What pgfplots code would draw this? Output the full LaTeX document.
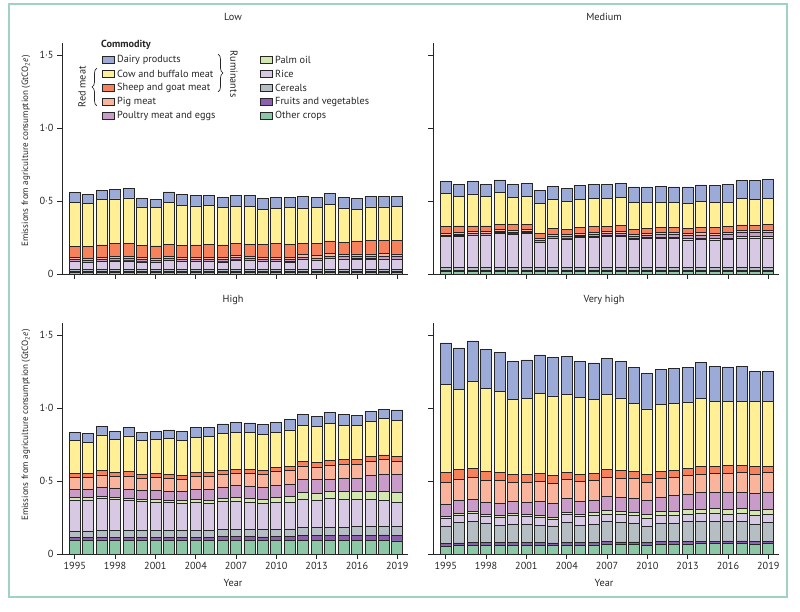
\documentclass[border=0pt]{standalone}
\usepackage{fontspec}
\setmainfont{PT Sans}
\usepackage{pgfplots}
\pgfplotsset{compat=1.18}
\usepackage{pgfplotstable}
\usetikzlibrary{decorations.pathreplacing}

\definecolor{cDairy}{HTML}{9BAAD7}
\definecolor{cCow}{HTML}{FFF096}
\definecolor{cSheep}{HTML}{F5825A}
\definecolor{cPig}{HTML}{FAB49B}
\definecolor{cPoultry}{HTML}{C89BC8}
\definecolor{cPalm}{HTML}{D2E8AF}
\definecolor{cRice}{HTML}{D7C8E4}
\definecolor{cCereal}{HTML}{B4BEC3}
\definecolor{cFruit}{HTML}{8C5FAF}
\definecolor{cOther}{HTML}{8CC8A5}
\definecolor{cFrame}{HTML}{9FD3C1}
\definecolor{cInk}{HTML}{262626}

\pgfplotstableread{
year other fruit cereal rice palm poultry pig sheep cow dairy
1995 .008 .010 .012 .054 .002 .012 .014 .075 .306 .064
1996 .008 .010 .012 .049 .002 .012 .014 .080 .297 .062
1997 .008 .010 .012 .056 .002 .012 .014 .085 .312 .062
1998 .008 .010 .012 .060 .002 .012 .015 .089 .306 .064
1999 .008 .010 .012 .060 .002 .012 .015 .091 .311 .063
2000 .008 .010 .012 .053 .002 .012 .015 .082 .265 .059
2001 .008 .010 .012 .051 .002 .012 .015 .082 .265 .054
2002 .008 .010 .012 .063 .002 .013 .015 .082 .288 .069
2003 .008 .010 .012 .054 .002 .013 .015 .082 .274 .076
2004 .008 .010 .012 .054 .002 .013 .015 .085 .267 .073
2005 .008 .010 .012 .054 .002 .013 .015 .089 .265 .071
2006 .008 .010 .012 .053 .002 .013 .016 .085 .258 .070
2007 .008 .010 .012 .066 .002 .014 .016 .082 .253 .078
2008 .008 .010 .012 .061 .002 .014 .016 .082 .256 .078
2009 .008 .010 .012 .054 .002 .014 .016 .089 .240 .073
2010 .008 .010 .012 .054 .002 .014 .016 .094 .237 .076
2011 .009 .009 .012 .052 .003 .015 .016 .085 .253 .073
2012 .009 .009 .012 .068 .003 .015 .016 .080 .240 .080
2013 .009 .009 .012 .062 .003 .015 .016 .086 .242 .073
2014 .009 .009 .013 .073 .003 .016 .016 .087 .251 .075
2015 .009 .009 .013 .069 .003 .016 .016 .084 .233 .073
2016 .010 .009 .013 .069 .003 .016 .017 .089 .217 .075
2017 .010 .009 .013 .069 .003 .016 .017 .094 .228 .071
2018 .010 .008 .013 .069 .003 .017 .019 .089 .231 .073
2019 .010 .008 .013 .067 .003 .017 .019 .091 .233 .073
}\lowdata

\pgfplotstableread{
year other fruit cereal rice palm poultry pig sheep cow dairy
1995 .020 .007 .018 .211 .003 .008 .012 .045 .228 .080
1996 .020 .007 .018 .215 .003 .009 .012 .045 .205 .082
1997 .020 .007 .018 .220 .003 .009 .012 .040 .219 .084
1998 .020 .007 .018 .220 .003 .009 .012 .040 .203 .084
1999 .020 .007 .018 .234 .003 .009 .013 .038 .215 .087
2000 .020 .007 .018 .229 .004 .009 .013 .038 .187 .089
2001 .020 .007 .018 .234 .004 .009 .013 .037 .192 .087
2002 .020 .007 .018 .170 .004 .010 .013 .036 .208 .087
2003 .020 .007 .018 .197 .004 .011 .013 .043 .198 .089
2004 .020 .007 .018 .195 .004 .011 .014 .037 .189 .092
2005 .020 .007 .018 .206 .005 .012 .013 .039 .191 .094
2006 .020 .007 .018 .208 .005 .012 .014 .040 .192 .096
2007 .020 .007 .018 .213 .005 .013 .014 .034 .192 .096
2008 .020 .007 .018 .215 .006 .013 .014 .038 .192 .096
2009 .020 .007 .018 .192 .006 .015 .014 .036 .185 .103
2010 .020 .007 .018 .197 .007 .016 .014 .034 .180 .103
2011 .020 .007 .018 .199 .007 .018 .014 .037 .173 .107
2012 .020 .007 .018 .199 .008 .019 .014 .035 .171 .105
2013 .020 .007 .018 .188 .008 .021 .014 .037 .173 .110
2014 .020 .007 .018 .192 .009 .022 .014 .038 .178 .112
2015 .020 .007 .018 .188 .009 .024 .014 .040 .169 .116
2016 .020 .007 .018 .192 .010 .025 .014 .038 .169 .121
2017 .020 .007 .018 .199 .011 .027 .014 .040 .182 .124
2018 .020 .007 .018 .199 .011 .028 .015 .035 .178 .128
2019 .020 .007 .018 .199 .012 .030 .015 .039 .176 .132
}\meddata

\pgfplotstableread{
year other fruit cereal rice palm poultry pig sheep cow dairy
1995 .095 .017 .046 .212 .015 .060 .081 .028 .223 .055
1996 .095 .017 .046 .212 .015 .060 .081 .028 .212 .057
1997 .096 .018 .046 .222 .015 .059 .086 .028 .246 .057
1998 .095 .018 .047 .212 .016 .059 .084 .028 .228 .054
1999 .095 .018 .047 .207 .016 .059 .093 .028 .246 .055
2000 .094 .019 .047 .199 .017 .062 .081 .028 .230 .053
2001 .094 .020 .048 .195 .017 .064 .086 .028 .230 .055
2002 .094 .020 .048 .189 .018 .062 .084 .028 .250 .057
2003 .093 .021 .048 .187 .018 .059 .084 .028 .239 .060
2004 .093 .022 .049 .190 .020 .068 .091 .028 .239 .064
2005 .093 .022 .049 .184 .021 .073 .091 .028 .244 .061
2006 .094 .024 .050 .190 .023 .075 .089 .030 .250 .066
2007 .094 .025 .051 .193 .025 .079 .082 .030 .255 .069
2008 .093 .025 .050 .189 .026 .082 .084 .030 .251 .068
2009 .092 .025 .049 .178 .030 .080 .091 .030 .244 .066
2010 .092 .027 .051 .183 .035 .084 .093 .030 .239 .067
2011 .092 .028 .052 .182 .038 .087 .093 .030 .248 .069
2012 .093 .033 .054 .197 .045 .091 .090 .033 .244 .073
2013 .092 .034 .054 .190 .047 .094 .085 .033 .242 .073
2014 .092 .036 .055 .195 .048 .087 .095 .033 .253 .073
2015 .092 .037 .055 .192 .050 .089 .097 .033 .237 .071
2016 .092 .038 .056 .188 .055 .086 .100 .033 .230 .071
2017 .091 .039 .056 .185 .060 .107 .097 .033 .239 .068
2018 .091 .040 .056 .179 .065 .114 .101 .033 .247 .067
2019 .090 .040 .057 .167 .068 .123 .088 .033 .251 .070
}\highdata

\pgfplotstableread{
year other fruit cereal rice palm poultry pig sheep cow dairy
1995 .055 .018 .119 .051 .012 .087 .146 .071 .604 .283
1996 .058 .018 .138 .053 .013 .085 .148 .064 .552 .282
1997 .060 .018 .143 .056 .013 .084 .153 .059 .593 .280
1998 .060 .018 .132 .047 .014 .082 .151 .064 .565 .269
1999 .060 .018 .120 .055 .014 .080 .155 .054 .559 .264
2000 .060 .018 .125 .062 .015 .080 .128 .057 .513 .258
2001 .059 .018 .126 .053 .015 .082 .139 .055 .518 .264
2002 .059 .018 .121 .053 .016 .091 .137 .054 .550 .264
2003 .058 .018 .116 .045 .016 .094 .134 .055 .547 .262
2004 .062 .018 .134 .055 .018 .091 .130 .051 .535 .258
2005 .061 .018 .119 .058 .018 .084 .137 .052 .525 .248
2006 .062 .018 .125 .058 .020 .086 .137 .048 .504 .251
2007 .065 .019 .137 .053 .022 .096 .132 .055 .513 .246
2008 .064 .019 .136 .052 .023 .094 .132 .052 .497 .247
2009 .064 .019 .127 .053 .024 .094 .134 .053 .465 .244
2010 .062 .019 .106 .057 .025 .098 .123 .053 .451 .242
2011 .066 .019 .125 .052 .028 .098 .130 .045 .463 .237
2012 .067 .019 .124 .052 .030 .107 .125 .051 .456 .241
2013 .069 .019 .133 .051 .031 .107 .128 .046 .453 .240
2014 .070 .019 .135 .052 .032 .112 .127 .050 .468 .246
2015 .070 .019 .135 .053 .033 .112 .130 .050 .445 .239
2016 .071 .019 .134 .050 .034 .114 .130 .052 .440 .237
2017 .071 .019 .134 .051 .035 .114 .135 .047 .441 .237
2018 .069 .018 .118 .059 .035 .114 .134 .050 .447 .208
2019 .070 .018 .129 .053 .036 .114 .136 .046 .442 .205
}\vhighdata

\newcommand\fs{\fontsize{10.3}{12}\selectfont}
\newcommand\fl{\fontsize{9.1}{11}\selectfont}

\pgfplotsset{
  panel/.style={
    scale only axis, width=346bp, height=230.7bp,
    xmin=1994.05, xmax=2019.8, ymin=0, ymax=1.58,
    ybar stacked, bar width=0.82,
    axis x line*=bottom, axis y line*=left,
    axis line style={-, draw=cInk, line width=0.8bp},
    tick align=outside, major tick length=5bp,
    tick style={draw=cInk, line width=0.8bp},
    xtick={1995,1998,2001,2004,2007,2010,2013,2016,2019},
    ytick={0,0.5,1,1.5},
    tick label style={font=\fs, text=cInk},
    xticklabels={}, yticklabels={},
    every axis plot/.append style={draw=cInk, line width=0.7bp},
  },
  xlab/.style={xticklabels={1995,1998,2001,2004,2007,2010,2013,2016,2019}},
  ylab/.style={yticklabels={0,0·5,1·0,1·5}},
}

\newcommand\stackbars[1]{%
  \addplot[fill=cOther] table[x=year,y=other]{#1};
  \addplot[fill=cFruit] table[x=year,y=fruit]{#1};
  \addplot[fill=cCereal] table[x=year,y=cereal]{#1};
  \addplot[fill=cRice] table[x=year,y=rice]{#1};
  \addplot[fill=cPalm] table[x=year,y=palm]{#1};
  \addplot[fill=cPoultry] table[x=year,y=poultry]{#1};
  \addplot[fill=cPig] table[x=year,y=pig]{#1};
  \addplot[fill=cSheep] table[x=year,y=sheep]{#1};
  \addplot[fill=cCow] table[x=year,y=cow]{#1};
  \addplot[fill=cDairy] table[x=year,y=dairy]{#1};
}

\begin{document}
\begin{tikzpicture}
\useasboundingbox (0,0) rectangle (800bp,612bp);
\draw[cFrame, line width=1.5bp] (9bp,15bp) rectangle (787bp,608bp);

\begin{axis}[panel, ylab, at={(62bp,338bp)}, anchor=south west]
\stackbars{\lowdata}
\end{axis}
\begin{axis}[panel, at={(433bp,338bp)}, anchor=south west]
\stackbars{\meddata}
\end{axis}
\begin{axis}[panel, xlab, ylab, at={(62bp,58bp)}, anchor=south west]
\stackbars{\highdata}
\end{axis}
\begin{axis}[panel, xlab, at={(433bp,58bp)}, anchor=south west]
\stackbars{\vhighdata}
\end{axis}

\begin{scope}[x=1bp, y=1bp, font=\fs, text=cInk]
% titles
\node at (233,595) {Low};
\node at (604,595) {Medium};
\node at (233,312) {High};
\node at (604,312) {Very high};
\node at (233,29) {Year};
\node at (604,29) {Year};
\node[rotate=90, font=\fl] at (26,461) {Emissions from agriculture consumption (GtCO\textsubscript{2}\textit{e})};
\node[rotate=90, font=\fl] at (26,187) {Emissions from agriculture consumption (GtCO\textsubscript{2}\textit{e})};
% legend
\node[anchor=west, font=\fs\bfseries, inner sep=0] at (101,567) {Commodity};
\foreach \c/\t [count=\i from 0] in {cDairy/Dairy products, cCow/Cow and buffalo meat, cSheep/Sheep and goat meat, cPig/Pig meat, cPoultry/Poultry meat and eggs}{
  \draw[fill=\c, draw=cInk, line width=0.6] (102,552.5-14*\i-3.5) rectangle (114,552.5-14*\i+3.5);
  \node[anchor=west, inner sep=0] at (117,552.5-14*\i) {\t};
}
\foreach \c/\t [count=\i from 0] in {cPalm/Palm oil, cRice/Rice, cCereal/Cereals, cFruit/Fruits and vegetables, cOther/Other crops}{
  \draw[fill=\c, draw=cInk, line width=0.6] (260,552.5-14*\i-3.5) rectangle (272,552.5-14*\i+3.5);
  \node[anchor=west, inner sep=0] at (275,552.5-14*\i) {\t};
}
\draw[decorate, decoration={brace, amplitude=5}, line width=0.7, cInk] (218,558) -- (218,520);
\node[rotate=-90] at (234,538) {Ruminants};
\draw[decorate, decoration={brace, amplitude=5}, line width=0.7, cInk] (97,506) -- (97,544);
\node[rotate=90] at (82,525) {Red meat};
\end{scope}
\end{tikzpicture}
\end{document}
